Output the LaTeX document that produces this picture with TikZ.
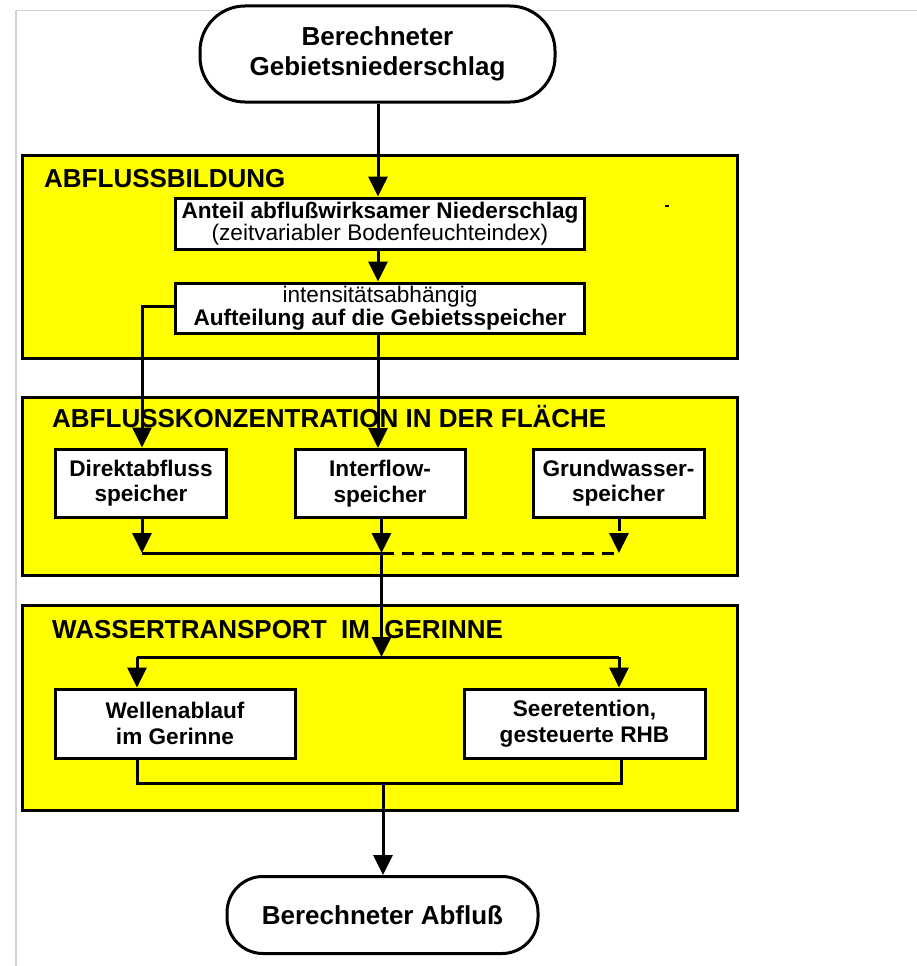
\documentclass[tikz,border=0pt]{standalone}
\usepackage{fontspec}
\setmainfont{Liberation Sans}
\usetikzlibrary{arrows.meta}
\definecolor{secyellow}{RGB}{255,255,0}
\definecolor{framegray}{RGB}{210,210,210}
\tikzset{
  conn/.style={line width=3pt},
  arr/.style={line width=3pt,-{Triangle[width=19pt,length=20pt]}},
  section/.style={draw=black,line width=3pt,fill=secyellow},
  sectitle/.style={anchor=west,inner sep=0pt,font=\fontsize{26}{31}\selectfont\bfseries},
  box/.style={draw=black,line width=3pt,fill=white,inner sep=0pt,align=center,
    font=\fontsize{22.6}{25.5}\selectfont\bfseries},
  term/.style={draw=black,line width=3pt,fill=white,inner sep=0pt,align=center,
    rounded corners=45pt,font=\fontsize{26}{30}\selectfont\bfseries},
}
\begin{document}
\begin{tikzpicture}[x=1pt,y=-1pt]
\useasboundingbox (0,0) rectangle (917,966);
% faint page frame
\draw[framegray,line width=1.5pt] (16,966) -- (16,10.5) -- (917,10.5);

% sections
\draw[section] (22,155) rectangle (737,358);
\draw[section] (22,397) rectangle (737,575);
\draw[section] (22,605) rectangle (737,810);
\node[sectitle] (t1) at (44,179) {ABFLUSSBILDUNG};
\node[sectitle] (t2) at (52,417) {ABFLUSSKONZENTRATION IN DER FLÄCHE};
\node[sectitle] (t3) at (52,630) {WASSERTRANSPORT\ \ IM\ \ GERINNE};
\draw[line width=1.5pt] (665,206) -- (669,206);

% terminals
\node[term,minimum width=355pt,minimum height=96pt] (top) at (377.5,54) {Berechneter\\Gebietsniederschlag};
\node[term,minimum width=311pt,minimum height=77pt,rounded corners=36pt] (end) at (382.5,915) {Berechneter Abfluß};

% boxes section 1
\node[box,minimum width=409pt,minimum height=51pt] (b1) at (380,223.5)
  {Anteil abflußwirksamer Niederschlag\\[-3pt]\mdseries (zeitvariabler Bodenfeuchteindex)};
\node[box,minimum width=409pt,minimum height=50pt] (b2) at (380,308)
  {\mdseries intensitätsabhängig\\[-3pt]Aufteilung auf die Gebietsspeicher};

% boxes section 2
\node[box,minimum width=171pt,minimum height=68pt] (d) at (141,483) {Direktabfluss\\speicher};
\node[box,minimum width=170pt,minimum height=68pt] (i) at (380,483.5) {Interflow-\\speicher};
\node[box,minimum width=171pt,minimum height=68pt] (g) at (618.5,483) {Grundwasser-\\speicher};

% boxes section 3
\node[box,minimum width=240pt,minimum height=69pt] (w) at (175,723.5) {Wellenablauf\\im Gerinne};
\node[box,minimum width=241pt,minimum height=69pt] (s) at (584.5,723.5) {Seeretention,\\gesteuerte RHB};

% junction coordinates
\coordinate (c2l) at (142,553);
\coordinate (c2m) at (381.5,553);
\coordinate (c2r) at (619,553);
\coordinate (c3m) at (381.5,657);
\coordinate (c3l) at (137,657);
\coordinate (c3r) at (619,657);
\coordinate (c4l) at (137,783);
\coordinate (c4m) at (383,783);
\coordinate (c4r) at (621,783);
\coordinate (bend) at (142,306);

% connectors section 1
\draw[arr] (378,0 |- top.south) -- (378,0 |- b1.north);
\draw[arr] (378,0 |- b1.south) -- (378,0 |- b2.north);
\draw[arr] (b2.west |- bend) -- (bend) -- (bend |- d.north);
\draw[arr] (378,0 |- b2.south) -- (378,0 |- i.north);

% connectors section 2
\draw[arr] (c2l |- d.south) -- (c2l);
\draw[arr] (c2m |- i.south) -- (c2m);
\draw[arr,dash pattern=on 12pt off 8pt] (c2r |- g.south) -- (c2r);
\draw[conn] (c2l) -- (c2m);
\draw[conn,dash pattern=on 12pt off 8pt] (c2m) -- (c2r);
\draw[arr] (c2m) -- (c3m);

% connectors section 3
\draw[conn] (c3l) -- (c3r);
\draw[arr] (c3l) -- (c3l |- w.north);
\draw[arr] (c3r) -- (c3r |- s.north);
\draw[conn] (c4l |- w.south) -- (c4l) -- (c4r) -- (c4r |- s.south);
\draw[arr] (c4m) -- (c4m |- end.north);
\end{tikzpicture}
\end{document}
